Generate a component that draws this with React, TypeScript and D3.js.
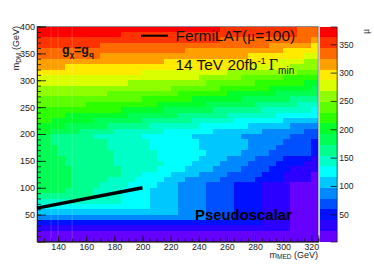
import React, { useEffect, useRef } from 'react';
import * as d3 from 'd3';

const WIDTH = 374;
const HEIGHT = 268;
const plot = { left: 37, right: 318.3, top: 26.5, bottom: 241.5 };
const bar = { left: 320, right: 336.7 };

const xDomain = [125, 325];
const yDomain = [0, 400];
const zDomain = [2, 381.4];
const binWidth = 5;
const binHeight = 10;

// ROOT rainbow, one colour per contour band, low to high
const palette = [
  '#6600ff', '#2b00ff', '#0011ff', '#0050ff', '#0088ff',
  '#00c8ff', '#00ffff', '#00ffc8', '#00ff8f', '#00ff55',
  '#00ff2a', '#2bff00', '#5dff00', '#8fff00', '#d9ff00',
  '#ffea00', '#ffa000', '#ff6a00', '#ff3300', '#ff0000',
];

// one row per m_DM bin from the top (390-400) down: band, column where the run ends
const bandRuns = [
  [19, 26, 18, 37, 17, 40],
  [19, 12, 18, 37, 17, 40],
  [18, 26, 17, 39, 16, 40],
  [18, 9, 17, 33, 16, 39, 15, 40],
  [17, 21, 16, 35, 15, 40],
  [17, 9, 16, 30, 15, 38, 14, 40],
  [16, 18, 15, 33, 14, 38, 13, 40],
  [16, 4, 15, 30, 14, 36, 13, 40],
  [15, 15, 14, 27, 13, 37, 12, 40],
  [14, 23, 13, 29, 12, 35, 11, 40],
  [14, 13, 13, 24, 12, 31, 11, 38, 10, 40],
  [13, 19, 12, 26, 11, 33, 10, 39, 9, 40],
  [13, 10, 12, 20, 11, 27, 10, 34, 9, 40],
  [12, 15, 11, 22, 10, 29, 9, 36, 8, 40],
  [12, 7, 11, 17, 10, 24, 9, 31, 8, 37, 7, 40],
  [11, 12, 10, 18, 9, 25, 8, 32, 7, 39, 6, 40],
  [11, 4, 10, 13, 9, 20, 8, 27, 7, 34, 6, 40],
  [11, 2, 10, 8, 9, 15, 8, 22, 7, 28, 6, 35, 5, 40],
  [10, 4, 9, 10, 8, 16, 7, 23, 6, 30, 5, 36, 4, 40],
  [10, 2, 9, 6, 8, 11, 7, 18, 6, 25, 5, 32, 4, 38, 3, 40],
  [9, 2, 8, 8, 7, 15, 6, 22, 5, 29, 4, 36, 3, 40],
  [9, 2, 8, 10, 7, 16, 6, 23, 5, 30, 4, 35, 3, 39, 2, 40],
  [9, 3, 8, 10, 7, 16, 6, 23, 5, 30, 4, 34, 3, 39, 2, 40],
  [9, 3, 8, 11, 7, 17, 6, 24, 5, 29, 4, 33, 3, 39, 2, 40],
  [9, 4, 8, 11, 7, 17, 6, 23, 5, 27, 4, 31, 3, 35, 2, 39, 1, 40],
  [9, 4, 8, 11, 7, 18, 6, 22, 5, 26, 4, 30, 3, 34, 2, 38, 1, 40],
  [9, 5, 8, 12, 7, 17, 6, 21, 5, 25, 4, 29, 3, 33, 2, 36, 1, 40],
  [9, 5, 8, 12, 7, 15, 6, 19, 5, 23, 4, 27, 3, 32, 2, 35, 1, 39, 0, 40],
  [9, 5, 8, 10, 7, 14, 6, 18, 5, 21, 4, 26, 3, 31, 2, 35, 1, 39, 0, 40],
  [9, 5, 8, 9, 7, 13, 6, 17, 5, 20, 4, 24, 3, 28, 2, 32, 1, 36, 0, 40],
  [9, 4, 8, 8, 7, 12, 6, 16, 5, 20, 4, 24, 3, 28, 2, 32, 1, 36, 0, 40],
  [8, 8, 7, 12, 6, 16, 5, 20, 4, 24, 3, 28, 2, 32, 1, 36, 0, 40],
  [7, 12, 6, 16, 5, 20, 4, 24, 3, 28, 2, 32, 1, 36, 0, 40],
  [6, 16, 5, 20, 4, 24, 3, 28, 2, 32, 1, 36, 0, 40],
  [5, 20, 4, 24, 3, 28, 2, 32, 1, 36, 0, 40],
  [4, 24, 3, 28, 2, 32, 1, 36, 0, 40],
  [2, 32, 1, 36, 0, 40],
  [1, 36, 0, 40],
  [0, 40],
  [0, 40],
];

const xMajorTicks = [140, 160, 180, 200, 220, 240, 260, 280, 300, 320];
const yMajorTicks = [50, 100, 150, 200, 250, 300, 350, 400];
const zTicks = [50, 100, 150, 200, 250, 300, 350];

// faint pale seams between bins on the left of the original
const seamMed = [135, 140, 150];

// FermiLAT limit line
const fermiMed = [125, 200];
const fermiDm = [62, 100];

const SANS = '"Liberation Sans", Arial, Helvetica, sans-serif';
const SERIF = '"Liberation Serif", "Times New Roman", serif';

export default function App() {
  const chartRef = useRef<SVGGElement>(null);

  useEffect(() => {
    const g = d3.select(chartRef.current);
    g.selectAll('*').remove();

    const xScale = d3.scaleLinear().domain(xDomain).range([plot.left, plot.right]);
    const yScale = d3.scaleLinear().domain(yDomain).range([plot.bottom, plot.top]);
    const zScale = d3.scaleLinear().domain(zDomain).range([plot.bottom, plot.top]);
    const zStep = (zDomain[1] - zDomain[0]) / palette.length;
    const colour = d3.scaleQuantize<string>().domain(zDomain).range(palette);

    // expand the runs to one rectangle per run, with mu at the band centre
    const cells = bandRuns.flatMap((runs, row) => {
      const out = [];
      let start = 0;
      for (let i = 0; i < runs.length; i += 2) {
        out.push({
          row,
          start,
          end: runs[i + 1],
          mu: zDomain[0] + (runs[i] + 0.5) * zStep,
        });
        start = runs[i + 1];
      }
      return out;
    });

    g.append('g')
      .attr('shape-rendering', 'crispEdges')
      .selectAll('rect')
      .data(cells)
      .enter()
      .append('rect')
      .attr('x', (d) => xScale(xDomain[0] + d.start * binWidth))
      .attr('width', (d) => xScale(xDomain[0] + d.end * binWidth) - xScale(xDomain[0] + d.start * binWidth))
      .attr('y', (d) => yScale(yDomain[1] - d.row * binHeight))
      .attr('height', (d) => yScale(yDomain[1] - (d.row + 1) * binHeight) - yScale(yDomain[1] - d.row * binHeight))
      .attr('fill', (d) => colour(d.mu));

    g.append('g')
      .selectAll('line')
      .data(seamMed)
      .enter()
      .append('line')
      .attr('x1', (d) => xScale(d))
      .attr('x2', (d) => xScale(d))
      .attr('y1', plot.top)
      .attr('y2', plot.bottom)
      .attr('stroke', '#fff')
      .attr('stroke-opacity', 0.18)
      .attr('stroke-width', 1);

    // palette bar
    g.append('g')
      .attr('shape-rendering', 'crispEdges')
      .selectAll('rect')
      .data(palette)
      .enter()
      .append('rect')
      .attr('x', bar.left)
      .attr('width', bar.right - bar.left)
      .attr('y', (_, i) => zScale(zDomain[0] + (i + 1) * zStep))
      .attr('height', zStep * ((plot.bottom - plot.top) / (zDomain[1] - zDomain[0])))
      .attr('fill', (d) => d);

    // frame
    g.append('rect')
      .attr('x', plot.left)
      .attr('y', plot.top)
      .attr('width', plot.right - plot.left)
      .attr('height', plot.bottom - plot.top)
      .attr('fill', 'none')
      .attr('stroke', '#000')
      .attr('stroke-opacity', 0.45)
      .attr('stroke-width', 1);
    g.append('line')
      .attr('x1', plot.right + 1)
      .attr('x2', plot.right + 1)
      .attr('y1', plot.top)
      .attr('y2', plot.bottom)
      .attr('stroke', '#c8c8c8')
      .attr('stroke-width', 1.4);

    const styleAxis = (sel, size) => {
      sel.select('.domain').attr('stroke', '#222').attr('stroke-width', 0.8);
      sel.selectAll('line').attr('stroke', '#111').attr('stroke-width', 0.8);
      sel.selectAll('text').attr('font-family', SANS).attr('font-size', size).attr('fill', '#222');
    };

    const xMinor = d3.range(125, 326, 5);
    g.append('g')
      .attr('transform', `translate(0,${plot.bottom})`)
      .call(d3.axisBottom(xScale).tickValues(xMinor).tickSize(-3).tickFormat(() => ''))
      .call(styleAxis, 9);
    g.append('g')
      .attr('transform', `translate(0,${plot.bottom})`)
      .call(d3.axisBottom(xScale).tickValues(xMajorTicks).tickSize(-6).tickPadding(2).tickFormat(d3.format('d')))
      .call(styleAxis, 8.8);

    const yMinor = d3.range(10, 400, 10);
    g.append('g')
      .attr('transform', `translate(${plot.left},0)`)
      .call(d3.axisLeft(yScale).tickValues(yMinor).tickSize(-4).tickFormat(() => ''))
      .call(styleAxis, 9);
    g.append('g')
      .attr('transform', `translate(${plot.left},0)`)
      .call(d3.axisLeft(yScale).tickValues(yMajorTicks).tickSize(-9).tickPadding(2).tickFormat(d3.format('d')))
      .call(styleAxis, 9);

    g.append('g')
      .attr('transform', `translate(${bar.right},0)`)
      .call(d3.axisRight(zScale).tickValues(zTicks).tickSize(-6).tickPadding(2.5).tickFormat(d3.format('d')))
      .call(styleAxis, 8.6);

    // FermiLAT line
    const line = d3
      .line<number>()
      .x((d) => xScale(d))
      .y((_, i) => yScale(fermiDm[i]));
    g.append('path')
      .datum(fermiMed)
      .attr('d', line)
      .attr('fill', 'none')
      .attr('stroke', '#000')
      .attr('stroke-width', 3.4);
  }, []);

  return (
    <svg
      width={WIDTH}
      height={HEIGHT}
      style={{ position: 'absolute', left: 0, top: 0, background: '#fff' }}
    >
      <g ref={chartRef} />

      <line x1={141} x2={168} y1={35.7} y2={35.7} stroke="#000" strokeWidth={2} />
      <text x={175.5} y={40.5} fontFamily={SANS} fontSize={15.4} fill="#111">
        FermiLAT(<tspan fontFamily={SERIF}>μ</tspan>=100)
      </text>
      <text x={175.5} y={70} fontFamily={SANS} fontSize={15.4} fill="#111">
        14 TeV 20fb
        <tspan fontSize={9.5} dy={-6}>-1</tspan>
        <tspan fontFamily={SERIF} fontSize={16} dy={6} dx={3}>Γ</tspan>
        <tspan fontSize={10} dy={4}>min</tspan>
      </text>
      <text x={62} y={53.5} fontFamily={SANS} fontSize={12.5} fontWeight="bold" fill="#111">
        g<tspan fontSize={7.5} dy={3}>χ</tspan>
        <tspan dy={-3}>=g</tspan>
        <tspan fontSize={8} dy={3}>q</tspan>
      </text>
      <text x={195} y={220} fontFamily={SANS} fontSize={14.9} fontWeight="bold" fill="#000">
        Pseudoscalar
      </text>

      <text
        transform="translate(19,26) rotate(-90)"
        textAnchor="end"
        fontFamily={SANS}
        fontSize={9}
        fill="#222"
      >
        m<tspan fontSize={6.5} dy={1.5}>DM</tspan>
        <tspan dy={-1.5}> (GeV)</tspan>
      </text>
      <text x={318} y={257.5} textAnchor="end" fontFamily={SANS} fontSize={9} fill="#222">
        m<tspan fontSize={6.5} dy={1.5}>MED</tspan>
        <tspan dy={-1.5}> (GeV)</tspan>
      </text>
      <text
        transform="translate(369,34) rotate(-90)"
        fontFamily={SERIF}
        fontSize={9.5}
        fill="#222"
      >
        μ
      </text>
    </svg>
  );
}
